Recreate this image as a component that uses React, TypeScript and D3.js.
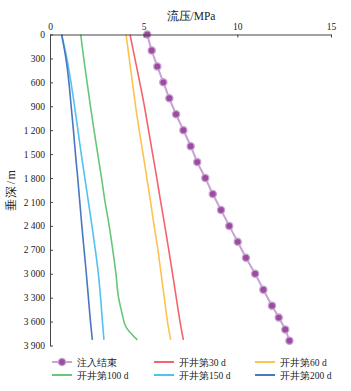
import React from "react";
import * as d3 from "d3";

const xTicks = [0, 5, 10, 15];
const yTicks = [0, 300, 600, 900, 1200, 1500, 1800, 2100, 2400, 2700, 3000, 3300, 3600, 3900];

const depthInj = [0, 200, 400, 600, 800, 1000, 1200, 1400, 1600, 1800, 2000, 2200, 2400, 2600, 2800, 3000, 3200, 3400, 3550, 3700, 3840];
const pInj = [5.19, 5.43, 5.73, 6.05, 6.37, 6.73, 7.12, 7.51, 7.86, 8.29, 8.69, 9.13, 9.57, 10.02, 10.46, 10.95, 11.39, 11.85, 12.21, 12.56, 12.78];

const depthLine = [0, 300, 600, 900, 1200, 1500, 1800, 2100, 2400, 2700, 3000, 3300, 3600, 3830];
const p30 = [4.27, 4.53, 4.79, 5.04, 5.26, 5.48, 5.7, 5.91, 6.13, 6.34, 6.54, 6.74, 6.94, 7.12];
const p60 = [4.06, 4.23, 4.4, 4.57, 4.76, 4.97, 5.17, 5.37, 5.56, 5.76, 5.93, 6.1, 6.27, 6.44];
const p150 = [0.62, 0.9, 1.12, 1.31, 1.49, 1.67, 1.86, 2.05, 2.24, 2.42, 2.58, 2.7, 2.8, 2.88];
const p200 = [0.62, 0.85, 1.01, 1.13, 1.25, 1.36, 1.48, 1.59, 1.7, 1.82, 1.94, 2.05, 2.16, 2.26];

const depth100 = [0, 300, 600, 900, 1200, 1500, 1800, 2100, 2400, 2700, 3000, 3300, 3500, 3670, 3830];
const p100 = [1.64, 1.8, 1.98, 2.16, 2.35, 2.55, 2.75, 2.94, 3.16, 3.35, 3.52, 3.66, 3.85, 4.06, 4.66];

const legendLabels = ["注入结束", "开井第30 d", "开井第60 d", "开井第100 d", "开井第150 d", "开井第200 d"];
const legendColors = ["#c9a2d4", "#f4636e", "#fdc24f", "#66c77a", "#52c3ef", "#4b76c2"];

const W = 351;
const H = 391;
const LEFT = 50;
const RIGHT = 331;
const TOP = 34.5;
const BOTTOM = 345.5;

const serif = "Liberation Serif, Times New Roman, serif";

const fmt = d3.formatLocale({ decimal: ".", thousands: " ", grouping: [3], currency: ["", ""] }).format(",");

export default function App() {
  const x = d3.scaleLinear().domain([0, 15]).range([LEFT, RIGHT]);
  const y = d3.scaleLinear().domain([0, 3900]).range([TOP, BOTTOM]);

  const line = d3
    .line<[number, number]>()
    .x((d) => x(d[0]))
    .y((d) => y(d[1]))
    .curve(d3.curveMonotoneY);

  const series = [
    { vals: p100, depths: depth100, color: legendColors[3] },
    { vals: p150, depths: depthLine, color: legendColors[4] },
    { vals: p200, depths: depthLine, color: legendColors[5] },
    { vals: p60, depths: depthLine, color: legendColors[2] },
    { vals: p30, depths: depthLine, color: legendColors[1] },
  ];

  const injPts: [number, number][] = pInj.map((v, i) => [v, depthInj[i]]);

  const xAxisRef = (g: SVGGElement | null) => {
    if (!g) return;
    const sel = d3.select(g);
    sel.call(d3.axisTop(x).tickValues(xTicks).tickSizeInner(-3).tickSizeOuter(0).tickPadding(5));
    sel.attr("font-family", serif).attr("font-size", 9.5);
    sel.select(".domain").attr("stroke", "#444");
    sel.selectAll(".tick line").attr("stroke", "#444");
    sel.selectAll("text").attr("fill", "#222");
  };
  const yAxisRef = (g: SVGGElement | null) => {
    if (!g) return;
    const sel = d3.select(g);
    sel.call(d3.axisLeft(y).tickValues(yTicks).tickSizeInner(-3).tickSizeOuter(0).tickPadding(5).tickFormat((d) => fmt(d as number)));
    sel.attr("font-family", serif).attr("font-size", 9.5);
    sel.select(".domain").attr("stroke", "#444");
    sel.selectAll(".tick line").attr("stroke", "#444");
    sel.selectAll("text").attr("fill", "#222");
  };

  const legendX = [52, 154, 255];
  const legendY = [362, 375];

  return (
    <svg width={W} height={H} style={{ position: "absolute", left: 0, top: 0, background: "#fff" }}>
      <text x={191} y={20} textAnchor="middle" fontFamily={serif} fontSize={11.5} fill="#222">
        流压/MPa
      </text>
      <text
        transform={`translate(15,${(TOP + BOTTOM) / 2}) rotate(-90)`}
        textAnchor="middle"
        fontFamily={serif}
        fontSize={12}
        letterSpacing={1.5}
        fill="#222"
      >
        垂深/m
      </text>
      {series.map((s, i) => (
        <path
          key={i}
          d={line(s.vals.map((v, j) => [v, s.depths[j]] as [number, number])) || ""}
          fill="none"
          stroke={s.color}
          strokeWidth={1.6}
        />
      ))}
      <path d={line(injPts) || ""} fill="none" stroke={legendColors[0]} strokeWidth={2} />
      {injPts.map((p, i) => (
        <circle key={i} cx={x(p[0])} cy={y(p[1])} r={3.6} fill="#9a4d9f" stroke="#c9a2d4" strokeWidth={1.3} />
      ))}
      <g ref={xAxisRef} transform={`translate(0,${TOP})`} />
      <g ref={yAxisRef} transform={`translate(${LEFT},0)`} />
      {legendLabels.map((lab, i) => {
        const lx = legendX[i % 3];
        const ly = legendY[Math.floor(i / 3)];
        return (
          <g key={lab}>
            <line x1={lx} x2={lx + 20} y1={ly} y2={ly} stroke={legendColors[i]} strokeWidth={2} />
            {i === 0 && <circle cx={lx + 10} cy={ly} r={3.6} fill="#9a4d9f" stroke="#c9a2d4" strokeWidth={1.3} />}
            <text x={lx + 25} y={ly + 3.5} fontFamily={serif} fontSize={9.5} fill="#222">
              {lab}
            </text>
          </g>
        );
      })}
    </svg>
  );
}
